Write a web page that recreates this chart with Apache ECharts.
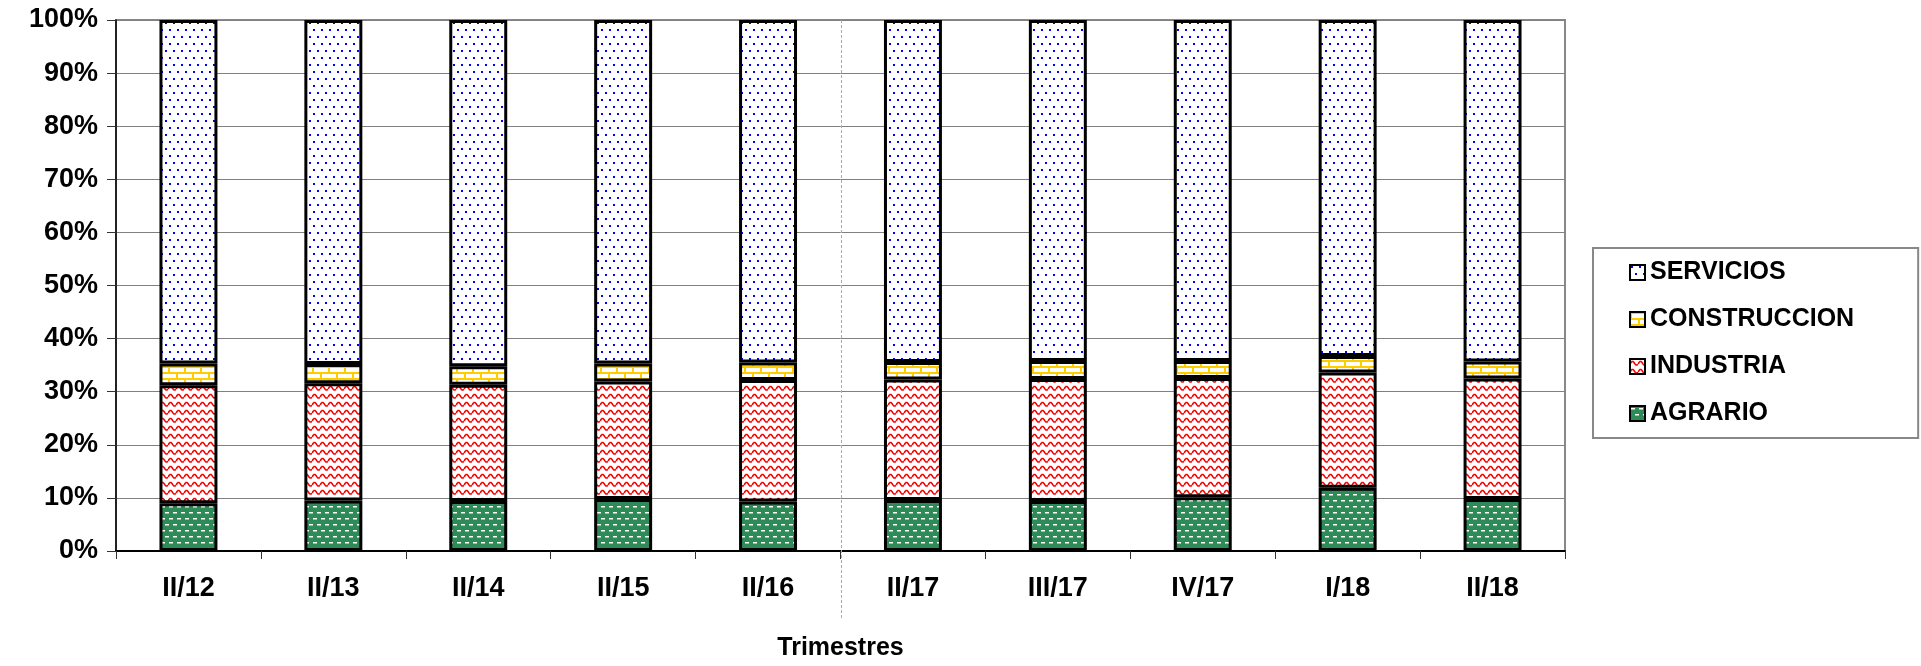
<!DOCTYPE html>
<html>
<head>
<meta charset="utf-8">
<script src="https://cdn.jsdelivr.net/npm/echarts@6/dist/echarts.min.js"></script>
<style>
html,body{margin:0;padding:0;background:#fff;}
#c{width:1921px;height:666px;}
</style>
</head>
<body>
<div id="c"></div>
<script>
const categories = ['II/12','II/13','II/14','II/15','II/16','II/17','III/17','IV/17','I/18','II/18'];
const agrario      = [9.0, 9.5, 9.4, 9.8, 9.3, 9.6, 9.4, 10.1, 11.9, 9.8];
const industria    = [22.2, 22.1, 21.9, 22.1, 22.9, 22.7, 23.0, 22.5, 21.7, 22.7];
const construccion = [4.1, 3.6, 3.5, 3.4, 3.3, 3.3, 3.4, 3.2, 3.1, 3.2];
const servicios    = [64.7, 64.8, 65.2, 64.7, 64.5, 64.4, 64.2, 64.2, 63.3, 64.3];
const yTicks = [0, 10, 20, 30, 40, 50, 60, 70, 80, 90, 100];

function makeCanvas(w, h, draw) {
  const c = document.createElement('canvas');
  c.width = w; c.height = h;
  draw(c.getContext('2d'));
  return c;
}
const patServicios = makeCanvas(8, 14, ctx => {
  ctx.fillStyle = '#ffffff'; ctx.fillRect(0, 0, 8, 14);
  ctx.fillStyle = '#0000ff';
  ctx.fillRect(1, 1, 2, 2);
  ctx.fillRect(5, 8, 2, 2);
});
const patConstruccion = makeCanvas(16, 12, ctx => {
  ctx.fillStyle = '#ffffff'; ctx.fillRect(0, 0, 16, 12);
  ctx.fillStyle = '#ffcc00';
  ctx.fillRect(0, 0, 16, 2);
  ctx.fillRect(0, 6, 16, 2);
  ctx.fillRect(0, 0, 2, 6);
  ctx.fillRect(8, 6, 2, 6);
});
const patIndustria = makeCanvas(8, 8, ctx => {
  ctx.fillStyle = '#ffffff'; ctx.fillRect(0, 0, 8, 8);
  ctx.strokeStyle = '#ff0000'; ctx.lineWidth = 1.6;
  ctx.beginPath();
  ctx.moveTo(0, 5); ctx.lineTo(1, 3.5); ctx.lineTo(2, 2.5); ctx.lineTo(3, 2.5);
  ctx.lineTo(4, 3.5); ctx.lineTo(5, 5); ctx.lineTo(6, 6); ctx.lineTo(7, 6); ctx.lineTo(8, 5);
  ctx.stroke();
});
const patAgrario = makeCanvas(8, 12, ctx => {
  ctx.fillStyle = '#2e8b57'; ctx.fillRect(0, 0, 8, 12);
  ctx.fillStyle = '#ffffff';
  ctx.fillRect(1, 2, 4, 1.5);
  ctx.fillRect(5, 8, 3, 1.5);
  ctx.fillRect(0, 8, 1, 1.5);
});

const FONT = 'Liberation Sans, Arial, sans-serif';
const border = { borderColor: '#000', borderWidth: 3 };

function bar(name, data, pat) {
  return {
    name, type: 'bar', stack: 'total', data,
    barWidth: '40%',
    itemStyle: Object.assign({ color: { image: pat, repeat: 'repeat' } }, border),
    emphasis: { disabled: true }
  };
}

const chart = echarts.init(document.getElementById('c'), null, { renderer: 'canvas' });
chart.setOption({
  animation: false,
  backgroundColor: '#ffffff',
  grid: { left: 116, right: 356, top: 20, bottom: 110, show: true, borderColor: '#888', borderWidth: 2, containLabel: false },
  legend: {
    orient: 'vertical',
    left: 1593, top: 248,
    data: ['SERVICIOS', 'CONSTRUCCION', 'INDUSTRIA', 'AGRARIO'],
    padding: [12, 64, 12, 36],
    itemGap: 22,
    itemWidth: 15, itemHeight: 15, itemTextGap: 7,
    icon: 'rect',
    borderColor: '#888', borderWidth: 2,
    selectedMode: false,
    textStyle: { fontFamily: FONT, fontWeight: 'bold', fontSize: 25, color: '#000', lineHeight: 25 }
  },
  xAxis: {
    type: 'category', data: categories, boundaryGap: true,
    name: 'Trimestres', nameLocation: 'middle', nameGap: 85,
    nameTextStyle: { fontFamily: FONT, fontWeight: 'bold', fontSize: 25, color: '#000' },
    axisLine: { lineStyle: { color: '#000', width: 2 } },
    axisTick: { show: true, length: 8, lineStyle: { color: '#333', width: 1 } },
    axisLabel: { fontFamily: FONT, fontWeight: 'bold', fontSize: 27, color: '#000', margin: 24 },
    splitLine: { show: false }
  },
  yAxis: {
    type: 'value', min: yTicks[0], max: yTicks[yTicks.length - 1], interval: 10,
    axisLine: { show: true, lineStyle: { color: '#000', width: 1.5 } },
    axisTick: { show: true, length: 9, lineStyle: { color: '#333' } },
    axisLabel: { fontFamily: FONT, fontWeight: 'bold', fontSize: 27, color: '#000', margin: 18, formatter: '{value}%' },
    splitLine: { lineStyle: { color: '#808080', width: 1 } }
  },
  series: [
    bar('AGRARIO', agrario, patAgrario),
    bar('INDUSTRIA', industria, patIndustria),
    bar('CONSTRUCCION', construccion, patConstruccion),
    bar('SERVICIOS', servicios, patServicios)
  ]
});

// dashed separator between II/16 and II/17, placed through the library's own scales
const xa = chart.convertToPixel({ xAxisIndex: 0 }, categories[4]);
const xb = chart.convertToPixel({ xAxisIndex: 0 }, categories[5]);
const yTop = chart.convertToPixel({ yAxisIndex: 0 }, yTicks[yTicks.length - 1]);
const xs = Math.round((xa + xb) / 2) + 0.5;
chart.setOption({
  graphic: [{
    type: 'line', z: 1, silent: true,
    shape: { x1: xs, y1: yTop, x2: xs, y2: 620 },
    style: { stroke: '#aaa', lineWidth: 1, lineDash: [3, 2] }
  }]
});
</script>
</body>
</html>
